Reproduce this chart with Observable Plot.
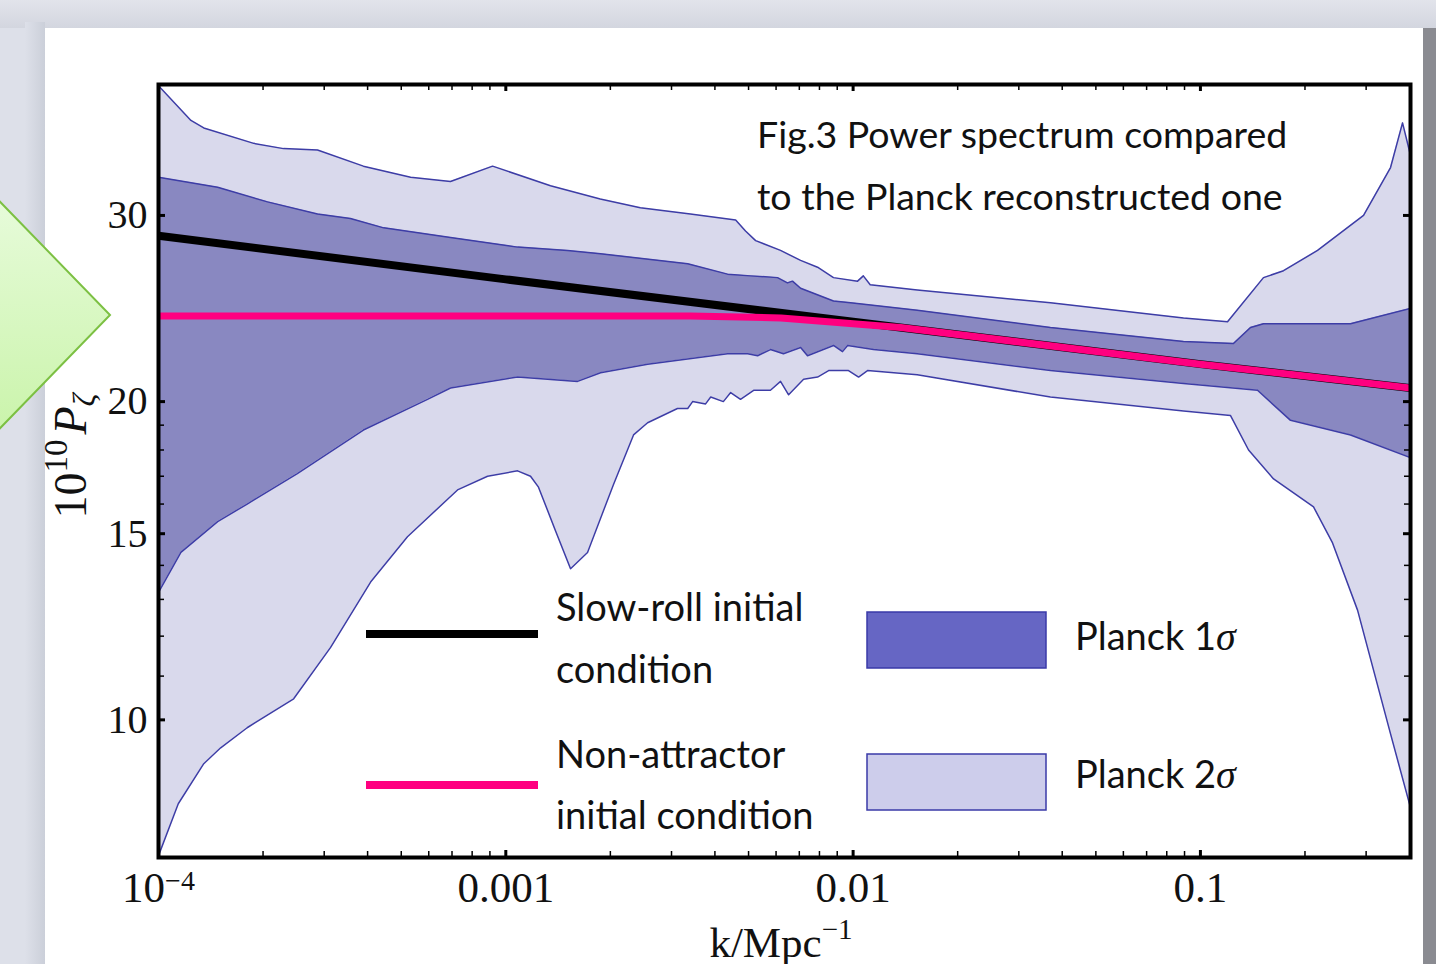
<!DOCTYPE html>
<html><head><meta charset="utf-8">
<script src="https://cdn.jsdelivr.net/npm/d3@7"></script>
<script src="https://cdn.jsdelivr.net/npm/@observablehq/plot@0.6"></script>
<style>
html,body{margin:0;padding:0;}
body{width:1436px;height:964px;overflow:hidden;position:relative;background:#dde0e9;}
#bgtop{position:absolute;left:0;top:0;width:1436px;height:28px;background:linear-gradient(#e2e4eb,#d3d6df);}
#lstrip{position:absolute;left:25px;top:22px;width:20px;height:942px;background:linear-gradient(90deg,#dde0e9,#cbcfd9);}
#panel{position:absolute;left:45px;top:28px;width:1378px;height:936px;background:#fff;}
#rstrip{position:absolute;left:1423px;top:28px;width:13px;height:936px;background:#8a8b91;}
#chart{position:absolute;left:0;top:0;}
#deco{position:absolute;left:0;top:0;}
</style></head>
<body>
<div id="bgtop"></div><div id="lstrip"></div><div id="panel"></div><div id="rstrip"></div>
<div id="chart"></div>
<svg id="deco" width="1436" height="964">
  <defs><linearGradient id="gg" x1="0" y1="0" x2="0" y2="1"><stop offset="0" stop-color="#eefde6"/><stop offset="1" stop-color="#c3f29f"/></linearGradient></defs>
  <polygon points="-60,140 110,315 -60,490" fill="url(#gg)" stroke="#7cc043" stroke-width="2"/>
</svg>
<script>
// Planck 2σ upper bound
const kUp2 = [1.00e-4,1.24e-4,1.35e-4,1.88e-4,2.29e-4,2.87e-4,3.89e-4,5.32e-4,6.93e-4,9.16e-4,1.345e-3,1.87e-3,2.44e-3,3.40e-3,4.59e-3,4.90e-3,5.24e-3,6.18e-3,7.06e-3,7.90e-3,8.78e-3,1.03e-2,1.07e-2,1.12e-2,1.53e-2,3.70e-2,8.94e-2,0.1197,0.1519,0.1735,0.2174,0.2949,0.3527,0.3819,0.4026];
const vUp2 = [39.8,36.9,36.3,35.1,34.7,34.6,33.4,32.6,32.3,33.4,32.0,31.1,30.5,30.1,29.7,29.0,28.4,27.8,27.2,26.8,26.2,26.0,26.3,25.8,25.5,24.8,24.0,23.8,26.2,26.6,27.8,30.0,33.3,36.7,34.2];
// Planck 1σ upper bound
const kUp1 = [1.00e-4,1.48e-4,2.06e-4,2.87e-4,3.57e-4,4.45e-4,6.93e-4,1.081e-3,1.506e-3,1.874e-3,3.34e-3,4.35e-3,5.07e-3,6.06e-3,6.47e-3,6.69e-3,7.06e-3,8.78e-3,9.83e-3,1.53e-2,3.70e-2,8.94e-2,0.1245,0.1394,0.1519,0.2705,0.4026];
const vUp1 = [32.6,31.9,30.9,30.1,29.8,29.2,28.6,28.0,27.8,27.6,27.0,26.4,26.3,26.2,25.9,26.0,25.6,24.9,24.8,24.4,23.5,22.8,22.7,23.5,23.7,23.7,24.5];
// Planck 1σ lower bound
const kLo1 = [1.00e-4,1.16e-4,1.48e-4,1.80e-4,2.51e-4,3.89e-4,5.95e-4,6.93e-4,1.081e-3,1.609e-3,1.874e-3,2.56e-3,4.35e-3,4.97e-3,5.31e-3,5.78e-3,6.30e-3,7.06e-3,7.39e-3,8.78e-3,9.32e-3,9.64e-3,1.145e-2,1.53e-2,3.70e-2,8.94e-2,0.146,0.1817,0.2705,0.4026];
const vLo1 = [13.2,14.4,15.4,16.0,17.1,18.8,20.1,20.6,21.1,20.9,21.3,21.7,22.2,22.2,22.1,22.4,22.2,22.5,22.1,22.6,22.3,22.6,22.4,22.2,21.4,20.8,20.5,19.2,18.6,17.7];
// Planck 2σ lower bound
const kLo2 = [1.00e-4,1.14e-4,1.35e-4,1.51e-4,1.80e-4,2.45e-4,3.13e-4,4.08e-4,5.21e-4,7.26e-4,8.86e-4,1.081e-3,1.178e-3,1.242e-3,1.390e-3,1.536e-3,1.719e-3,2.042e-3,2.332e-3,2.56e-3,3.12e-3,3.34e-3,3.45e-3,3.76e-3,3.89e-3,4.23e-3,4.44e-3,4.74e-3,5.17e-3,5.78e-3,6.18e-3,6.52e-3,7.20e-3,7.90e-3,8.50e-3,9.70e-3,1.037e-2,1.100e-2,1.53e-2,3.70e-2,8.94e-2,0.1221,0.1376,0.1624,0.2117,0.2401,0.2834,0.3527,0.4026];
const vLo2 = [7.44,8.33,9.09,9.41,9.83,10.47,11.71,13.5,14.9,16.5,17.0,17.2,17.0,16.6,15.1,13.9,14.4,16.7,18.6,19.1,19.7,19.7,20.0,19.9,20.2,20.0,20.4,20.1,20.5,20.5,20.9,20.3,21.0,21.1,21.4,21.4,21.1,21.4,21.2,20.2,19.6,19.4,18.0,16.9,15.9,14.7,12.7,9.70,8.26];
// Slow-roll initial condition
const kSlow = [1e-4,1e-3,1e-2,0.1,0.4026];
const vSlow = [28.7,26.1,23.8,21.7,20.6];
// Non-attractor initial condition
const kNon = [1e-4,1e-3,3.4e-3,6.2e-3,1.0e-2,1.37e-2,0.1,0.4026];
const vNon = [24.1,24.1,24.1,24.0,23.7,23.5,21.7,20.6];
// ticks
const xMajor = [1e-4,1e-3,1e-2,1e-1];
const xMinor = [2,3,4,5,6,7,8,9].flatMap(m => [1e-4,1e-3,1e-2,1e-1].map(d => m*d)).filter(v => v < 0.4);
const yMajor = [10,15,20,30];
const yMinor = [11,12,13,14,16,17,18,19];
const xDomain = [1e-4, 0.4026];
const yDomain = [7.41, 39.9];

const pts = (ks, vs) => ks.map((k, i) => ({k, v: vs[i]}));
const up2 = pts(kUp2, vUp2), up1 = pts(kUp1, vUp1), lo1 = pts(kLo1, vLo1), lo2 = pts(kLo2, vLo2);
const slow = pts(kSlow, vSlow), non = pts(kNon, vNon);

const LIGHT = "#d9d9ec", DARK = "#8988c1", EDGE = "#3d3da6";
const W = 1436, H = 964, mL = 158, mR = 26, mT = 84, mB = 107;
const iw = W - mL - mR, ih = H - mT - mB;
const yb = yDomain[0];

const plot = Plot.plot({
  width: W, height: H,
  marginLeft: mL, marginRight: mR, marginTop: mT, marginBottom: mB,
  style: {background: "transparent", fontFamily: "'Liberation Serif', 'Times New Roman', serif", fontSize: "40px", color: "#111", overflow: "visible"},
  x: {type: "log", domain: xDomain, ticks: xMajor, tickSize: 0, tickPadding: 14,
      tickFormat: d => d === 1e-4 ? "10^-4" : d === 1e-3 ? "0.001" : d === 1e-2 ? "0.01" : "0.1", label: null},
  y: {type: "log", domain: yDomain, ticks: yMajor, tickSize: 0, tickPadding: 11, tickFormat: d => String(d), label: null},
  marks: [
    Plot.areaY(up2, {x: "k", y1: yb, y2: "v", fill: LIGHT, clip: true}),
    Plot.areaY(up1, {x: "k", y1: yb, y2: "v", fill: DARK, clip: true}),
    Plot.areaY(lo1, {x: "k", y1: yb, y2: "v", fill: LIGHT, clip: true}),
    Plot.areaY(lo2, {x: "k", y1: yb, y2: "v", fill: "white", clip: true}),
    Plot.line(up2, {x: "k", y: "v", stroke: EDGE, strokeWidth: 1.5, clip: true}),
    Plot.line(up1, {x: "k", y: "v", stroke: EDGE, strokeWidth: 1.5, clip: true}),
    Plot.line(lo1, {x: "k", y: "v", stroke: EDGE, strokeWidth: 1.5, clip: true}),
    Plot.line(lo2, {x: "k", y: "v", stroke: EDGE, strokeWidth: 1.5, clip: true}),
    Plot.line(slow, {x: "k", y: "v", stroke: "black", strokeWidth: 8, clip: true}),
    Plot.line(non, {x: "k", y: "v", stroke: "#ff0080", strokeWidth: 7, clip: true}),
    // inward ticks on all four sides
    Plot.tickX(xMajor, {x: d => d, insetTop: ih - 7, stroke: "black", strokeWidth: 3}),
    Plot.tickX(xMajor, {x: d => d, insetBottom: ih - 7, stroke: "black", strokeWidth: 3}),
    Plot.tickX(xMinor, {x: d => d, insetTop: ih - 6, stroke: "black", strokeWidth: 1.5}),
    Plot.tickX(xMinor, {x: d => d, insetBottom: ih - 6, stroke: "black", strokeWidth: 1.5}),
    Plot.tickY(yMajor, {y: d => d, insetRight: iw - 7, stroke: "black", strokeWidth: 3}),
    Plot.tickY(yMajor, {y: d => d, insetLeft: iw - 7, stroke: "black", strokeWidth: 3}),
    Plot.tickY(yMinor, {y: d => d, insetRight: iw - 6, stroke: "black", strokeWidth: 1.5}),
    Plot.tickY(yMinor, {y: d => d, insetLeft: iw - 6, stroke: "black", strokeWidth: 1.5}),
    Plot.frame({stroke: "black", strokeWidth: 4})
  ]
});
document.getElementById("chart").appendChild(plot);

// x tick labels: slightly larger, and superscript for 10^-4
d3.select(plot).selectAll("text").each(function() {
  const s = this.textContent;
  if (s === "10^-4" || s === "0.001" || s === "0.01" || s === "0.1") {
    d3.select(this).attr("font-size", "43px");
  }
  if (s === "10^-4") {
    const t = d3.select(this);
    t.text("");
    t.append("tspan").text("10");
    t.append("tspan").attr("dy", "-0.42em").attr("font-size", "28px").text("\u22124");
  }
});

// annotations, axis titles, legend
const svg = d3.select(plot);
const g = svg.append("g").attr("text-anchor", "start");
const sans = "Lato, 'Open Sans', sans-serif";
const serif = "'Liberation Serif', 'Times New Roman', serif";

// axis titles
const yt = g.append("text").attr("transform", "translate(86,456) rotate(-90)").attr("text-anchor", "middle")
  .attr("font-family", serif).attr("font-size", 46).attr("fill", "#111");
yt.append("tspan").text("10");
yt.append("tspan").attr("font-size", 33).attr("dy", -19).text("10");
yt.append("tspan").attr("font-style", "italic").attr("dx", 5).attr("dy", 19).text("P");
yt.append("tspan").attr("font-style", "italic").attr("font-size", 32).attr("dy", 9).text("\u03B6");

const xt = g.append("text").attr("x", 781).attr("y", 957).attr("text-anchor", "middle")
  .attr("font-family", serif).attr("font-size", 43).attr("fill", "#111");
xt.append("tspan").text("k/Mpc");
xt.append("tspan").attr("font-size", 29).attr("dy", -18).text("\u22121");

// figure caption inside plot
const tx = (x, y, s, fs) => g.append("text").attr("x", x).attr("y", y).attr("text-anchor", "start")
  .attr("font-family", sans).attr("font-size", fs).attr("fill", "#111").text(s);
tx(757, 148, "Fig.3 Power spectrum compared", 37.5);
tx(757, 210, "to the Planck reconstructed one", 37.5);

// legend
g.append("rect").attr("x", 366).attr("y", 630).attr("width", 172).attr("height", 8).attr("fill", "black");
g.append("rect").attr("x", 366).attr("y", 781).attr("width", 172).attr("height", 8).attr("fill", "#ff0080");
tx(556, 621, "Slow-roll initial", 38);
tx(556, 683, "condition", 38);
tx(556, 768, "Non-attractor", 38);
tx(556, 829, "initial condition", 38);
g.append("rect").attr("x", 867).attr("y", 612).attr("width", 179).attr("height", 56).attr("fill", "#6666c4").attr("stroke", "#3a3aa8").attr("stroke-width", 1.5);
g.append("rect").attr("x", 867).attr("y", 754).attr("width", 179).attr("height", 56).attr("fill", "#cdcdeb").attr("stroke", "#3a3aa8").attr("stroke-width", 1.5);
const pl = (y, n) => {
  const t = tx(1075, y, "Planck " + n, 38);
  t.append("tspan").attr("font-family", serif).attr("font-style", "italic").attr("font-size", 40).text("\u03C3");
};
pl(650, "1");
pl(788, "2");
</script>
</body></html>
